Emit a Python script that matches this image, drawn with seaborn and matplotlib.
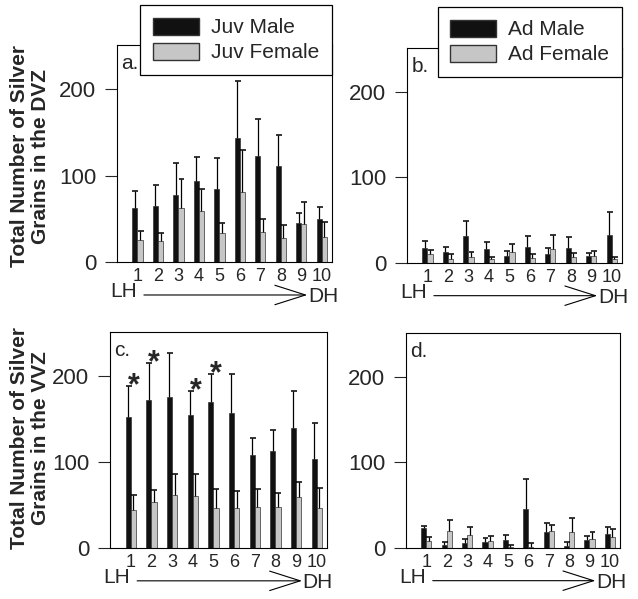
import numpy as np
import pandas as pd
import matplotlib.pyplot as plt
import seaborn as sns
from matplotlib.patches import Patch

# bins from lateral (LH) to dorsal (DH) hippocampus
regions = [str(i) for i in range(1, 11)]

# a. DVZ, juveniles
dvz_juv_male = [62, 65, 77, 94, 85, 143, 123, 111, 45, 50]
dvz_juv_male_err = [20, 24, 37, 27, 35, 66, 42, 36, 12, 14]
dvz_juv_female = [26, 24, 62, 59, 33, 81, 35, 28, 44, 29]
dvz_juv_female_err = [10, 9, 34, 25, 12, 49, 15, 15, 25, 17]

# b. DVZ, adults
dvz_ad_male = [18, 13, 32, 16, 8.5, 19, 11, 17, 8, 33]
dvz_ad_male_err = [8, 6, 17, 9, 5.5, 12, 6, 13, 4, 26]
dvz_ad_female = [10, 5, 7, 4.7, 13, 6, 16, 6.6, 8.5, 4.7]
dvz_ad_female_err = [5, 5, 6, 2.3, 9.5, 4.5, 17, 5.4, 5.1, 2.3]

# c. VVZ, juveniles
vvz_juv_male = [152, 172, 176, 154, 170, 157, 108, 113, 139, 104]
vvz_juv_male_err = [36, 43, 51, 28, 32, 45, 20, 24, 43, 41]
vvz_juv_female = [44, 53, 62, 61, 47, 47, 48, 48, 59, 47]
vvz_juv_female_err = [18, 14, 24, 25, 21, 19, 20, 16, 18, 23]

# d. VVZ, adults
vvz_ad_male = [23, 3.5, 6, 7, 9.7, 46, 18.6, 2.3, 9.7, 16.6]
vvz_ad_male_err = [2.5, 3.1, 4.4, 5, 5.3, 34, 10.4, 4.7, 4.3, 7.4]
vvz_ad_female = [8, 20, 15.5, 8, 1.5, 1.5, 20, 19, 10, 12.8]
vvz_ad_female_err = [4.8, 13, 9.5, 5.5, 1.5, 3.9, 6.7, 16.6, 8.6, 9.2]

# significant male vs female differences in panel c
star_regions = ['1', '2', '4', '5']

BLACK = '#111111'
GRAY = '#c6c6c6'
EDGE = '#333333'

sns.set_style('ticks')
plt.rcParams['font.family'] = ['Liberation Sans', 'DejaVu Sans']

W, H = 638, 599
fig = plt.figure(figsize=(W / 100, H / 100), dpi=100)


def add_axes_px(left, top, right, bottom):
    return fig.add_axes([left / W, 1 - bottom / H, (right - left) / W, (bottom - top) / H])


def draw_panel(ax, male, male_err, female, female_err, names, letter):
    df = pd.DataFrame({
        'region': regions * 2,
        'grains': male + female,
        'group': [names[0]] * len(regions) + [names[1]] * len(regions),
    })
    sns.barplot(data=df, x='region', y='grains', hue='group', palette=[BLACK, GRAY],
                width=0.5, errorbar=None, edgecolor=EDGE, linewidth=0.5,
                legend=False, ax=ax)
    tops_all = []
    for cont, err in zip(ax.containers, [male_err, female_err]):
        xs = np.array([b.get_x() + b.get_width() / 2 for b in cont])
        vals = np.asarray(cont.datavalues)
        tops = vals + np.asarray(err)
        ax.vlines(xs, vals, tops, color='black', lw=0.9)
        ax.hlines(tops, xs - 0.12, xs + 0.17, color='black', lw=1.1)
        tops_all.append((xs, tops))
    ax.set_xlim(-1.0, 9.5)
    ax.set_ylim(0, 251)
    ax.set_yticks([0, 100, 200])
    ax.tick_params(axis='y', length=9, width=0.8, pad=6, labelsize=16, direction='out')
    ax.tick_params(axis='x', length=0, pad=4, labelsize=13)
    ax.set_xlabel('')
    ax.set_ylabel('')
    for s in ax.spines.values():
        s.set_visible(True)
        s.set_color('black')
        s.set_linewidth(0.8)
    ax.text(0.02, 0.915, letter, transform=ax.transAxes, fontsize=15, ha='left', va='center')
    # LH -> DH axis
    ax.text(-0.03, -0.135, 'LH', transform=ax.transAxes, fontsize=15,
            ha='left', va='center', clip_on=False)
    ax.annotate('', xy=(0.885, -0.152), xytext=(0.125, -0.152), xycoords='axes fraction',
                arrowprops=dict(arrowstyle='->,head_length=2.2,head_width=0.7',
                                mutation_scale=10, lw=0.8, color='black',
                                shrinkA=0, shrinkB=0),
                annotation_clip=False)
    ax.text(0.888, -0.16, 'DH', transform=ax.transAxes, fontsize=15,
            ha='left', va='center', clip_on=False)
    return tops_all


def add_legend(ax, names, right_px, top_px):
    handles = [Patch(facecolor=BLACK, edgecolor=EDGE, label=names[0]),
               Patch(facecolor=GRAY, edgecolor=EDGE, label=names[1])]
    leg = ax.legend(handles=handles, loc='upper right',
                    bbox_to_anchor=(right_px / W, 1 - top_px / H),
                    bbox_transform=fig.transFigure, borderaxespad=0, fontsize=15,
                    handlelength=2.2, handleheight=0.9, handletextpad=0.6,
                    labelspacing=0.25, borderpad=0.6, frameon=True, fancybox=False,
                    edgecolor='black', framealpha=1)
    leg.get_frame().set_linewidth(0.9)


ax_a = add_axes_px(117, 45, 332, 262)
ax_b = add_axes_px(407, 48, 622, 263)
ax_c = add_axes_px(110, 332, 327, 548)
ax_d = add_axes_px(406, 333, 620, 548)

draw_panel(ax_a, dvz_juv_male, dvz_juv_male_err, dvz_juv_female, dvz_juv_female_err,
           ['Juv Male', 'Juv Female'], 'a.')
draw_panel(ax_b, dvz_ad_male, dvz_ad_male_err, dvz_ad_female, dvz_ad_female_err,
           ['Ad Male', 'Ad Female'], 'b.')
tops_c = draw_panel(ax_c, vvz_juv_male, vvz_juv_male_err, vvz_juv_female, vvz_juv_female_err,
                    ['Juv Male', 'Juv Female'], 'c.')
draw_panel(ax_d, vvz_ad_male, vvz_ad_male_err, vvz_ad_female, vvz_ad_female_err,
           ['Ad Male', 'Ad Female'], 'd.')

add_legend(ax_a, ['Juv Male', 'Juv Female'], 332, 5)
add_legend(ax_b, ['Ad Male', 'Ad Female'], 622, 7)

# asterisks above the male bars
xs_m, tops_m = tops_c[0]
for r in star_regions:
    i = regions.index(r)
    ax_c.annotate('*', xy=(xs_m[i], tops_m[i]), xytext=(4, -6), textcoords='offset points',
                  ha='center', va='baseline', fontsize=22, fontweight='bold')

ylab_kw = dict(rotation=90, ha='center', va='center', fontsize=15, fontweight='bold',
               multialignment='center', linespacing=1.15)
fig.text(30 / W, 1 - 156 / H, 'Total Number of Silver\nGrains in the DVZ', **ylab_kw)
fig.text(30 / W, 1 - 438 / H, 'Total Number of Silver\nGrains in the VVZ', **ylab_kw)

fig.savefig('out.png', dpi=100)
